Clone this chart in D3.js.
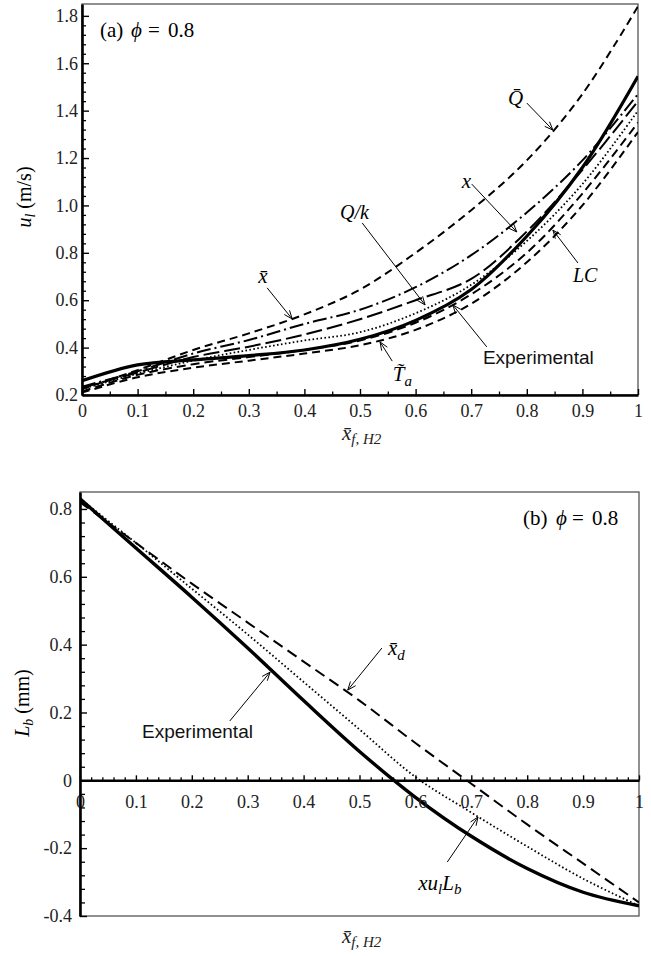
<!DOCTYPE html>
<html>
<head>
<meta charset="utf-8">
<script src="https://cdn.jsdelivr.net/npm/d3@7"></script>
</head>
<body style="margin:0;background:#fff">
<svg id="fig" width="651" height="956"></svg>
<script>
const SERIF = "Liberation Serif";
const SANS = "Liberation Sans";

// ---------- data: panel (a) laminar burning velocity u_l (m/s) ----------
const xGrid = [0, 0.1, 0.2, 0.3, 0.4, 0.5, 0.6, 0.7, 0.8, 0.9, 1.0];

const ulQbar = [0.225, 0.305, 0.39, 0.46, 0.54, 0.645, 0.80, 0.98, 1.19, 1.47, 1.84];
const ulDashDot = [0.235, 0.30, 0.375, 0.432, 0.50, 0.56, 0.655, 0.79, 0.97, 1.19, 1.47];
const ulLongDash = [0.23, 0.295, 0.36, 0.404, 0.455, 0.52, 0.60, 0.69, 0.89, 1.15, 1.44];
const ulDotted = [0.225, 0.29, 0.345, 0.39, 0.43, 0.465, 0.545, 0.665, 0.85, 1.09, 1.40];
const ulExperimental = [0.26, 0.327, 0.348, 0.366, 0.39, 0.435, 0.515, 0.645, 0.87, 1.16, 1.545];
const ulLC = [0.215, 0.285, 0.33, 0.36, 0.39, 0.43, 0.505, 0.625, 0.80, 1.05, 1.35];
const ulTa = [0.21, 0.275, 0.315, 0.345, 0.375, 0.41, 0.475, 0.585, 0.76, 1.0, 1.31];

// ---------- data: panel (b) Markstein length L_b (mm) ----------
const lbExperimental = [0.83, 0.685, 0.54, 0.39, 0.235, 0.085, -0.05, -0.165, -0.26, -0.33, -0.37];
const lbXuL = [0.83, 0.70, 0.565, 0.43, 0.29, 0.15, 0.01, -0.095, -0.195, -0.29, -0.37];
const lbXd = [0.82, 0.70, 0.58, 0.465, 0.35, 0.235, 0.11, -0.01, -0.13, -0.245, -0.36];

// ---------- tick labels ----------
const xTickValues = [0, 0.1, 0.2, 0.3, 0.4, 0.5, 0.6, 0.7, 0.8, 0.9, 1];
const xTickLabels = ["0", "0.1", "0.2", "0.3", "0.4", "0.5", "0.6", "0.7", "0.8", "0.9", "1"];
const ulTickValues = [0.2, 0.4, 0.6, 0.8, 1.0, 1.2, 1.4, 1.6, 1.8];
const ulTickLabels = ["0.2", "0.4", "0.6", "0.8", "1.0", "1.2", "1.4", "1.6", "1.8"];
const lbTickValues = [-0.4, -0.2, 0, 0.2, 0.4, 0.6, 0.8];
const lbTickLabels = ["-0.4", "-0.2", "0", "0.2", "0.4", "0.6", "0.8"];

// ---------- series tables ----------
const topSeries = [
  { values: ulQbar, dash: "8,5", width: 2 },
  { values: ulDashDot, dash: "14,4,2,4", width: 2 },
  { values: ulLongDash, dash: "16,5", width: 2 },
  { values: ulDotted, dash: "1.6,2.4", width: 1.8 },
  { values: ulLC, dash: "9,5", width: 2 },
  { values: ulTa, dash: "8,5", width: 2 },
  { values: ulExperimental, dash: null, width: 3.2 }
];
const bottomSeries = [
  { values: lbXd, dash: "11,6", width: 2 },
  { values: lbXuL, dash: "1.6,2.4", width: 1.8 },
  { values: lbExperimental, dash: null, width: 3.4 }
];

// label annotations: text pieces, label anchor, arrow start and arrow tip in data units
const topNotes = [
  { parts: [["Q\u0304", 21, 0]], at: [0.766, 1.424], from: [0.800, 1.432], to: [0.847, 1.318] },
  { parts: [["x", 21, 0]], at: [0.683, 1.074], from: [0.701, 1.090], to: [0.782, 0.888] },
  { parts: [["Q/k", 20, 0]], at: [0.464, 0.943], from: [0.504, 0.926], to: [0.617, 0.580] },
  { parts: [["x\u0304", 21, 0]], at: [0.317, 0.673], from: [0.333, 0.652], to: [0.378, 0.521] },
  { parts: [["T\u0303", 21, 0], ["a", 15, 5]], at: [0.559, 0.259], from: [0.558, 0.343], to: [0.536, 0.424] },
  { parts: [["LC", 20, 0]], at: [0.883, 0.677], from: [0.892, 0.757], to: [0.847, 0.896] },
  { sans: "Experimental", at: [0.721, 0.331], from: [0.728, 0.403], to: [0.667, 0.580] }
];
const bottomNotes = [
  { parts: [["x\u0304", 21, 0], ["d", 15, 5]], at: [0.551, 0.369], from: [0.540, 0.390], to: [0.479, 0.266] },
  { sans: "Experimental", at: [0.111, 0.125], from: [0.268, 0.175], to: [0.340, 0.319] },
  { parts: [["xu", 21, 0], ["l", 15, 4], ["L", 21, -4], ["b", 15, 4]], at: [0.605, -0.323], from: [0.657, -0.241], to: [0.712, -0.108] }
];

const svg = d3.select("#fig");

// every text element gets its family set on itself
function face(sel, fam) {
  return sel.attr("font-family", fam).style("font-family", fam, "important");
}

function arrow(g, x, y, from, to) {
  const x1 = x(from[0]), y1 = y(from[1]), x2 = x(to[0]), y2 = y(to[1]);
  g.append("line").attr("x1", x1).attr("y1", y1).attr("x2", x2).attr("y2", y2)
    .attr("stroke", "#000").attr("stroke-width", 1);
  const ang = Math.atan2(y1 - y2, x1 - x2), L = 9, a = 0.38;
  const p = [
    [x2 + L * Math.cos(ang + a), y2 + L * Math.sin(ang + a)],
    [x2, y2],
    [x2 + L * Math.cos(ang - a), y2 + L * Math.sin(ang - a)]
  ];
  g.append("path").attr("d", d3.line()(p)).attr("fill", "none")
    .attr("stroke", "#000").attr("stroke-width", 1);
}

function note(g, x, y, n) {
  arrow(g, x, y, n.from, n.to);
  if (n.sans) {
    face(g.append("text"), SANS).attr("x", x(n.at[0])).attr("y", y(n.at[1]))
      .attr("font-size", 19).attr("fill", "#111").text(n.sans);
  } else {
    const t = face(g.append("text"), SERIF).attr("x", x(n.at[0])).attr("y", y(n.at[1]))
      .attr("font-style", "italic").attr("fill", "#000");
    n.parts.forEach(([s, fs, dy]) => {
      face(t.append("tspan"), SERIF).attr("font-size", fs).attr("dy", dy).text(s);
    });
  }
}

function panel(opts) {
  const { x, y, yTicks, yLabels, minorY, minorX, xAxisAt, series, notes, xPad, yPad, majX, minX, majY, minY } = opts;
  const g = svg.append("g");
  const [x0, x1] = x.range(), [yb, yt] = y.range();

  // frame
  g.append("rect").attr("x", x0).attr("y", yt).attr("width", x1 - x0).attr("height", yb - yt)
    .attr("fill", "none").attr("stroke", "#555").attr("stroke-width", 1.3);

  // series
  const clip = "clip" + Math.round(yt);
  svg.append("clipPath").attr("id", clip).append("rect")
    .attr("x", x0).attr("y", yt).attr("width", x1 - x0).attr("height", yb - yt);
  const lineGen = d3.line().x((d, i) => x(xGrid[i])).y(d => y(d)).curve(d3.curveCatmullRom.alpha(0.5));
  const sg = g.append("g").attr("clip-path", `url(#${clip})`);
  series.forEach(s => {
    sg.append("path").attr("d", lineGen(s.values)).attr("fill", "none")
      .attr("stroke", "#000").attr("stroke-width", s.width)
      .attr("stroke-dasharray", s.dash)
      .attr("stroke-linejoin", "round");
  });

  // minor ticks
  g.append("g").attr("transform", `translate(${x0},0)`)
    .call(d3.axisLeft(y).tickValues(minorY).tickFormat("").tickSize(-minY).tickSizeOuter(0))
    .call(a => a.select(".domain").remove())
    .call(a => a.selectAll("text").remove())
    .call(a => a.selectAll("line").attr("stroke", "#000").attr("stroke-width", 1.3));
  g.append("g").attr("transform", `translate(0,${y(xAxisAt)})`)
    .call(d3.axisBottom(x).tickValues(minorX).tickFormat("").tickSize(-minX).tickSizeOuter(0))
    .call(a => a.select(".domain").remove())
    .call(a => a.selectAll("text").remove())
    .call(a => a.selectAll("line").attr("stroke", "#000").attr("stroke-width", 1.3));

  // major axes
  const ax = g.append("g").attr("transform", `translate(0,${y(xAxisAt)})`)
    .call(d3.axisBottom(x).tickValues(xTickValues).tickFormat((d, i) => xTickLabels[i])
      .tickSize(-majX).tickSizeOuter(0).tickPadding(xPad));
  const ay = g.append("g").attr("transform", `translate(${x0},0)`)
    .call(d3.axisLeft(y).tickValues(yTicks).tickFormat((d, i) => yLabels[i])
      .tickSize(-majY).tickSizeOuter(0).tickPadding(yPad));
  [ax, ay].forEach(a => {
    a.attr("font-family", SERIF).attr("font-size", 18);
    a.select(".domain").attr("stroke", "#000").attr("stroke-width", 2.6);
    a.selectAll(".tick line").attr("stroke", "#000").attr("stroke-width", 1.4);
    face(a.selectAll("text"), SERIF).attr("font-size", 18).attr("fill", "#222");
  });

  const ng = g.append("g");
  notes.forEach(n => note(ng, x, y, n));
  return g;
}

// ---------- panel (a) ----------
const xTop = d3.scaleLinear().domain([0, 1]).range([82, 638]);
const yTop = d3.scaleLinear().domain([0.2, 1.85]).range([395, 4]);
panel({
  x: xTop, y: yTop, yTicks: ulTickValues, yLabels: ulTickLabels,
  minorY: d3.range(0.24, 1.84, 0.04).filter(v => Math.abs(v * 5 - Math.round(v * 5)) > 1e-6),
  minorX: d3.range(0.05, 1, 0.1),
  xAxisAt: 0.2, series: topSeries, notes: topNotes,
  xPad: 9, yPad: 4, majX: 6, minX: 3.5, majY: 7, minY: 4
});

// ---------- panel (b) ----------
const xBot = d3.scaleLinear().domain([0, 1]).range([80, 639]);
const yBot = d3.scaleLinear().domain([-0.4, 0.85]).range([916, 492]);
panel({
  x: xBot, y: yBot, yTicks: lbTickValues, yLabels: lbTickLabels,
  minorY: d3.range(-0.36, 0.84, 0.04).filter(v => Math.abs(v * 5 - Math.round(v * 5)) > 1e-6),
  minorX: d3.range(0.02, 1, 0.02).filter(v => Math.abs(v * 10 - Math.round(v * 10)) > 1e-6),
  xAxisAt: 0, series: bottomSeries, notes: bottomNotes,
  xPad: 15, yPad: 8, majX: 5, minX: 3, majY: 7, minY: 5
});

// ---------- panel titles ----------
function phiTitle(letter, xs, yb) {
  const g = svg.append("g").attr("font-size", 21).attr("fill", "#000");
  face(g.append("text"), SERIF).attr("x", xs[0]).attr("y", yb).text(`(${letter})`);
  face(g.append("text"), SERIF).attr("x", xs[1]).attr("y", yb).attr("font-style", "italic").text("\u03D5");
  face(g.append("text"), SERIF).attr("x", xs[2]).attr("y", yb).text("=");
  face(g.append("text"), SERIF).attr("x", xs[3]).attr("y", yb).text("0.8");
}
phiTitle("a", [100, 131, 148, 168], 37);
phiTitle("b", [523, 556, 572, 592], 525);

// ---------- axis titles ----------
function yTitle(cx, cy, main, sub, unit) {
  const t = face(svg.append("text"), SERIF).attr("font-size", 20)
    .attr("transform", `translate(${cx},${cy}) rotate(-90)`).attr("text-anchor", "middle").attr("fill", "#000");
  face(t.append("tspan"), SERIF).attr("font-style", "italic").text(main);
  face(t.append("tspan"), SERIF).attr("font-style", "italic").attr("font-size", 14).attr("dy", 4).text(sub);
  face(t.append("tspan"), SERIF).attr("dy", -4).text(" " + unit);
}
yTitle(31, 197, "u", "l", "(m/s)");
yTitle(29, 703, "L", "b", "(mm)");

function xTitle(xs, yb) {
  const t = face(svg.append("text"), SERIF).attr("x", xs).attr("y", yb)
    .attr("font-style", "italic").attr("fill", "#222");
  face(t.append("tspan"), SERIF).attr("font-size", 21).text("x\u0304");
  face(t.append("tspan"), SERIF).attr("font-size", 15).attr("dy", 4).text("f, H2");
}
xTitle(342, 440);
xTitle(342, 943);
</script>
</body>
</html>
